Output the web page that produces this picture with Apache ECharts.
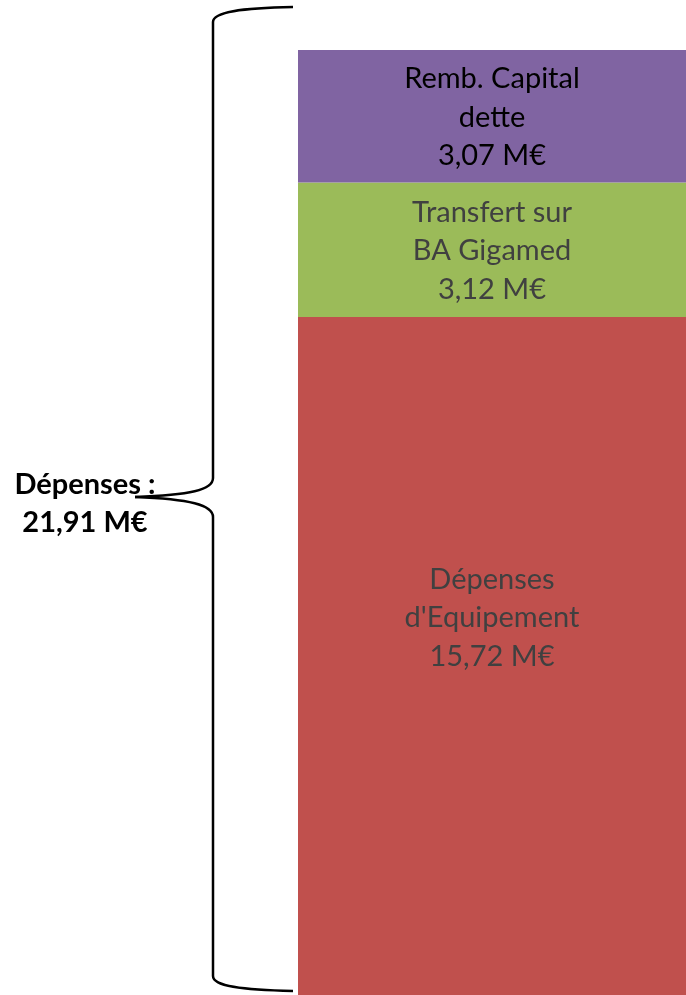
<!DOCTYPE html>
<html>
<head>
<meta charset="utf-8">
<script src="https://cdn.jsdelivr.net/npm/echarts@6/dist/echarts.min.js"></script>
<style>
  html, body { margin: 0; padding: 0; background: #fff; }
  #chart { width: 686px; height: 995px; }
</style>
</head>
<body>
<div id="chart"></div>
<script>
// data, bottom to top
const segNames = ["Dépenses\nd'Equipement", "Transfert sur\nBA Gigamed", "Remb. Capital\ndette"];
const segValues = [15.72, 3.12, 3.07];
const segColors = ["#C0504D", "#9BBB59", "#8064A2"];
const labelColors = ["#404040", "#404040", "#000000"];
const totalLabel = "Dépenses :\n21,91 M€";

const fmt = (v) => v.toFixed(2).replace(".", ",") + " M€";
const total = segValues.reduce((a, b) => a + b, 0);

const chart = echarts.init(document.getElementById("chart"));

const series = segNames.map((name, i) => ({
  name: name,
  type: "bar",
  stack: "dep",
  barWidth: "100%",
  data: [segValues[i]],
  itemStyle: { color: segColors[i] },
  label: {
    show: true,
    position: "inside",
    offset: i === 0 ? [0, -38] : [0, 1],
    formatter: () => name + "\n" + fmt(segValues[i]),
    color: labelColors[i],
    fontFamily: "Lato",
    fontSize: 29,
    lineHeight: 38.5,
    align: "center",
  },
}));

// accolade (pieces)
const braceStyle = { stroke: "#000", lineWidth: 2.5, fill: null };
const brace = [
  { type: "bezierCurve", shape: { x1: 293, y1: 7, cpx1: 240, cpy1: 8, cpx2: 213, cpy2: 12, x2: 213, y2: 22 } },
  { type: "line", shape: { x1: 213, y1: 22, x2: 213, y2: 478 } },
  { type: "bezierCurve", shape: { x1: 213, y1: 478, cpx1: 213, cpy1: 490, cpx2: 190, cpy2: 495, x2: 135, y2: 497 } },
  { type: "bezierCurve", shape: { x1: 135, y1: 497, cpx1: 190, cpy1: 499, cpx2: 213, cpy2: 505, x2: 213, y2: 517 } },
  { type: "line", shape: { x1: 213, y1: 517, x2: 213, y2: 976 } },
  { type: "bezierCurve", shape: { x1: 213, y1: 976, cpx1: 213, cpy1: 986, cpx2: 240, cpy2: 990, x2: 293, y2: 991 } },
].map((g) => Object.assign(g, { style: braceStyle }));

chart.setOption({
  animation: false,
  grid: { left: 298, right: 0, top: 50, bottom: 0 },
  xAxis: { type: "category", data: [""], show: false },
  yAxis: { type: "value", min: 0, max: total, show: false },
  series: series,
  graphic: brace.concat([
    {
      type: "text",
      x: 85,
      y: 466,
      style: {
        text: totalLabel,
        fill: "#000",
        font: "bold 29px Lato",
        lineHeight: 38,
        align: "center",
      },
    },
  ]),
});
</script>
</body>
</html>
